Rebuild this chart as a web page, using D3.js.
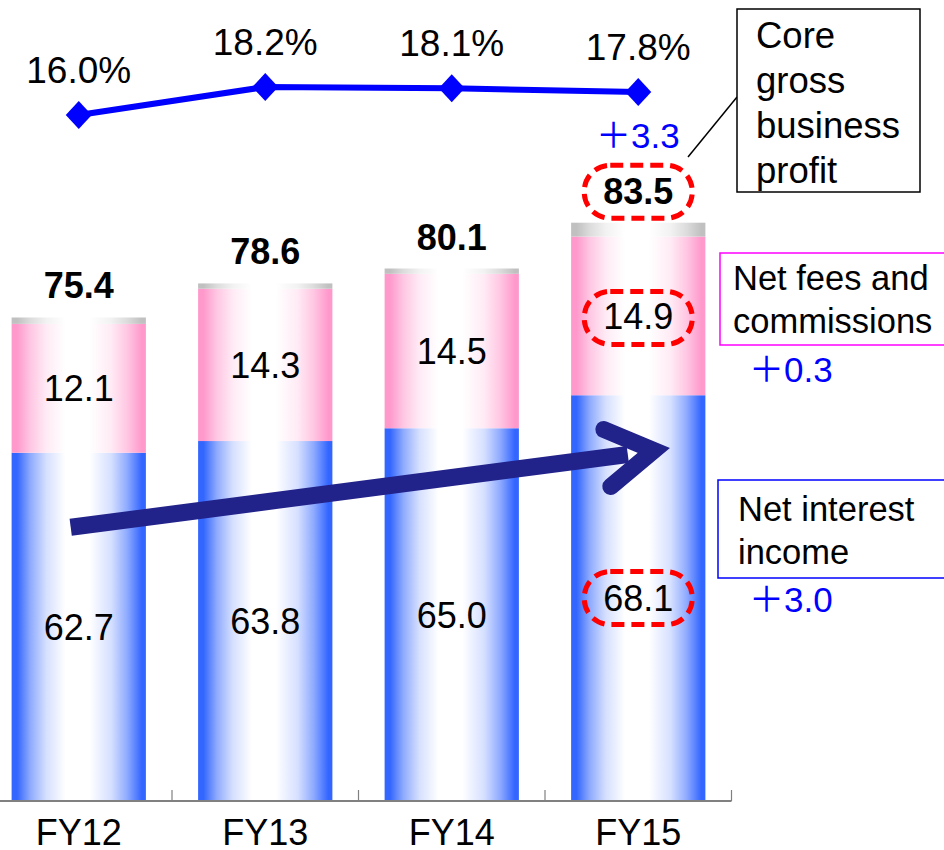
<!DOCTYPE html>
<html><head><meta charset="utf-8">
<script src="https://cdn.jsdelivr.net/npm/d3@7/dist/d3.min.js"></script>
<style>
html,body{margin:0;padding:0;background:#fff;}
svg{display:block;font-family:"Liberation Sans","Noto Sans CJK JP",Arial,sans-serif;}
</style></head>
<body>
<svg id="chart" width="944" height="850"></svg>
<script>
// ---- data ----
const categories = ["FY12", "FY13", "FY14", "FY15"];
const netInterest = [62.7, 63.8, 65.0, 68.1];
const netFees = [12.1, 14.3, 14.5, 14.9];
const other = [0.6, 0.5, 0.5, 1.3];
const totals = [75.4, 78.6, 80.1, 83.5];
const ratio = [16.0, 18.2, 18.1, 17.8];
const ratioLabels = ["16.0%", "18.2%", "18.1%", "17.8%"];
const changes = {core: "＋3.3", fees: "＋0.3", interest: "＋3.0"};

const svg = d3.select("#chart");
const W = 944, H = 850;
svg.append("rect").attr("width", W).attr("height", H).attr("fill", "#fff");

const x = d3.scaleBand().domain(categories).range([-14.5, 731.5])
  .paddingInner(0.28).paddingOuter(0.14);
const y = d3.scaleLinear().domain([30, 90]).range([801, 162]);
const yR = d3.scaleLinear().domain([10, 20]).range([191.4, 64.1]);
const bw = x.bandwidth();
const step = x.step();

// gradients
const defs = svg.append("defs");
function grad(id, c) {
  const g = defs.append("linearGradient").attr("id", id)
    .attr("x1", 0).attr("x2", 1).attr("y1", 0).attr("y2", 0);
  const mid = d3.interpolateRgb(c, "#ffffff");
  [[0, c], [0.04, c], [0.14, mid(0.45)], [0.26, mid(0.8)], [0.4, "#ffffff"], [0.58, "#ffffff"],
   [0.74, mid(0.8)], [0.86, mid(0.45)], [0.97, c], [1, c]]
    .forEach(([o, col]) => g.append("stop").attr("offset", o).attr("stop-color", col));
}
grad("gBlue", "#3366ff");
grad("gPink", "#ff99cc");
grad("gGray", "#c0c0c0");

const stackData = categories.map((c, i) => ({
  cat: c, ni: netInterest[i], nf: netFees[i], ot: other[i], total: totals[i]
}));
const series = d3.stack().keys(["ni", "nf", "ot"])(stackData);
const fills = {ni: "url(#gBlue)", nf: "url(#gPink)", ot: "url(#gGray)"};

const gBars = svg.append("g");
series.forEach(s => {
  gBars.selectAll(null).data(s).join("rect")
    .attr("x", d => x(d.data.cat))
    .attr("width", bw)
    .attr("y", d => y(d[1]))
    .attr("height", d => y(s.key === "ni" ? 30 : d[0]) - y(d[1]))
    .attr("fill", fills[s.key]);
});

// axis baseline and boundary ticks
svg.append("line").attr("x1", 0).attr("x2", x.range()[1])
  .attr("y1", y(30)).attr("y2", y(30))
  .attr("stroke", "#808080").attr("stroke-width", 2);
svg.selectAll(null).data(categories).join("line")
  .attr("x1", d => x(d) + bw + step * 0.14).attr("x2", d => x(d) + bw + step * 0.14)
  .attr("y1", y(30)).attr("y2", y(30) - 11)
  .attr("stroke", "#808080").attr("stroke-width", 1.2);

// category labels
const xAxis = svg.append("g").attr("transform", `translate(0,${y(30)})`)
  .call(d3.axisBottom(x).tickSize(0).tickPadding(20));
xAxis.select(".domain").remove();
xAxis.selectAll("text").attr("font-size", 36).attr("fill", "#000")
  .attr("font-family", "Liberation Sans, Arial, sans-serif").attr("dy", "0.66em");

// segment labels
const fs = 36;
svg.selectAll(null).data(stackData).join("text")
  .attr("x", d => x(d.cat) + bw / 2)
  .attr("y", d => (y(30) + y(d.ni)) / 2)
  .attr("dy", "0.36em").attr("text-anchor", "middle").attr("font-size", fs)
  .text(d => d.ni.toFixed(1));
svg.selectAll(null).data(stackData).join("text")
  .attr("x", d => x(d.cat) + bw / 2)
  .attr("y", d => (y(d.ni) + y(d.ni + d.nf)) / 2)
  .attr("dy", "0.36em").attr("text-anchor", "middle").attr("font-size", fs)
  .text(d => d.nf.toFixed(1));
svg.selectAll(null).data(stackData).join("text")
  .attr("x", d => x(d.cat) + bw / 2)
  .attr("y", d => y(d.ni + d.nf + d.ot) - 19)
  .attr("text-anchor", "middle").attr("font-size", fs).attr("font-weight", "bold")
  .text(d => d.total.toFixed(1));

// dashed highlight ovals (FY15)
const last = stackData[3];
const cx = x(last.cat) + bw / 2;
const ovals = [
  (y(30) + y(last.ni)) / 2,
  (y(last.ni) + y(last.ni + last.nf)) / 2 + 2,
  y(last.ni + last.nf + last.ot) - 31
];
svg.selectAll(null).data(ovals).join("rect")
  .attr("x", cx - 54).attr("y", d => d - 26.5)
  .attr("width", 108).attr("height", 53).attr("rx", 26).attr("ry", 26)
  .attr("fill", "none").attr("stroke", "#ff0000").attr("stroke-width", 5)
  .attr("stroke-dasharray", "13 7");

// ratio line
const line = d3.line().x((d, i) => x(categories[i]) + bw / 2).y(d => yR(d));
svg.append("path").datum(ratio).attr("d", line)
  .attr("fill", "none").attr("stroke", "#0000ff").attr("stroke-width", 6);
svg.selectAll(null).data(ratio).join("path")
  .attr("transform", (d, i) => `translate(${x(categories[i]) + bw / 2},${yR(d)})`)
  .attr("d", "M0,-14L13,0L0,14L-13,0Z").attr("fill", "#0000ff");
svg.selectAll(null).data(ratio).join("text")
  .attr("x", (d, i) => x(categories[i]) + bw / 2)
  .attr("y", d => yR(d) - 32)
  .attr("text-anchor", "middle").attr("font-size", 37)
  .text((d, i) => ratioLabels[i]);

// trend arrow (from FY12 to FY15 within net interest income)
const arrowTail = [x("FY12") + bw * 0.44, y(55.7)];
const arrowTip = [x("FY15") + bw * 0.72, y(63.1)];
const navy = "#22228b";
svg.append("line")
  .attr("x1", arrowTail[0]).attr("y1", arrowTail[1])
  .attr("x2", arrowTip[0] - 40).attr("y2", arrowTip[1] + 6)
  .attr("stroke", navy).attr("stroke-width", 17);
svg.append("path")
  .attr("d", `M${arrowTip[0] - 64},${arrowTip[1] - 19}L${arrowTip[0] - 14},${arrowTip[1] + 2}L${arrowTip[0] - 57},${arrowTip[1] + 38}`)
  .attr("fill", "none").attr("stroke", navy).attr("stroke-width", 17)
  .attr("stroke-linecap", "round").attr("stroke-linejoin", "miter");

// callouts
// Core gross business profit
svg.append("line").attr("x1", 688).attr("y1", 157).attr("x2", 737).attr("y2", 97)
  .attr("stroke", "#000").attr("stroke-width", 1.5);
svg.append("rect").attr("x", 737).attr("y", 9).attr("width", 183).attr("height", 183)
  .attr("fill", "#fff").attr("stroke", "#000").attr("stroke-width", 1.5);
const coreT = svg.append("text").attr("font-size", 36.5);
["Core", "gross", "business", "profit"].forEach((t, i) =>
  coreT.append("tspan").attr("x", 756).attr("y", 48 + i * 45).text(t));
svg.append("text").attr("x", 596).attr("y", 148).attr("font-size", 35)
  .attr("fill", "#0000ff").text(changes.core);

// Net fees and commissions
svg.append("rect").attr("x", 720).attr("y", 253).attr("width", 240).attr("height", 92)
  .attr("fill", "#fff").attr("stroke", "#ff00ff").attr("stroke-width", 1.5);
const feeT = svg.append("text").attr("font-size", 34.5);
["Net fees and", "commissions"].forEach((t, i) =>
  feeT.append("tspan").attr("x", 733).attr("y", 290 + i * 43).text(t));
svg.append("text").attr("x", 749).attr("y", 382).attr("font-size", 35)
  .attr("fill", "#0000ff").text(changes.fees);

// Net interest income
svg.append("rect").attr("x", 718).attr("y", 480).attr("width", 240).attr("height", 98)
  .attr("fill", "#fff").attr("stroke", "#0000ff").attr("stroke-width", 1.5);
const niT = svg.append("text").attr("font-size", 34.5);
["Net interest", "income"].forEach((t, i) =>
  niT.append("tspan").attr("x", 738).attr("y", 521 + i * 43).text(t));
svg.append("text").attr("x", 749).attr("y", 612).attr("font-size", 35)
  .attr("fill", "#0000ff").text(changes.interest);
</script>
</body></html>
